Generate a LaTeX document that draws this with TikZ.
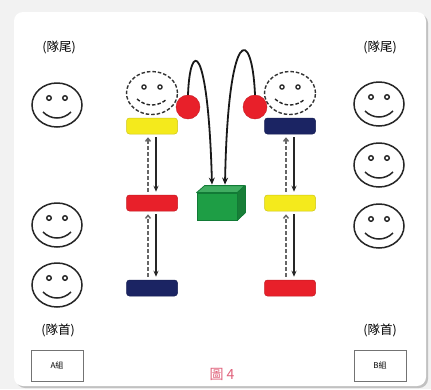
\documentclass[tikz,border=0pt]{standalone}
\usepackage{fontspec}
\newfontfamily\cjk{Noto Sans CJK TC}
\usetikzlibrary{shapes.geometric,arrows.meta,shadows,calc}
\definecolor{ballred}{HTML}{E8202A}
\definecolor{diskyellow}{HTML}{F4EA1C}
\definecolor{disknavy}{HTML}{1B2463}
\definecolor{boxgreen}{HTML}{1E9E45}
\definecolor{boxedge}{HTML}{127A36}
\definecolor{capred}{HTML}{E0607A}
\begin{document}
\begin{tikzpicture}[x=1pt,y=-1pt,
  face/.style={ellipse, draw=black!85, line width=1.5pt, minimum width=50pt,
    minimum height=44pt, inner sep=0pt,
    path picture={
      \path (path picture bounding box.center) coordinate (pc);
      \draw[black!85, line width=1.4pt, fill=white] ([shift={(-8,-7)}]pc) circle[radius=2.3pt];
      \draw[black!85, line width=1.4pt, fill=white] ([shift={(8,-7)}]pc) circle[radius=2.3pt];
      \draw[black!85, line width=1.5pt] ([shift={(-14,7)}]pc) .. controls ([shift={(-6,15)}]pc) and ([shift={(6,15)}]pc) .. ([shift={(14,7)}]pc);
    }},
  dface/.style={ellipse, draw=black!80, line width=1.4pt, dash pattern=on 3.5pt off 2pt,
    minimum width=51pt, minimum height=43pt, inner sep=0pt,
    path picture={
      \path (path picture bounding box.center) coordinate (pc);
      \draw[black!85, solid, line width=1.3pt, fill=white] ([shift={(-8,-6)}]pc) circle[radius=2.1pt];
      \draw[black!85, solid, line width=1.3pt, fill=white] ([shift={(8,-6)}]pc) circle[radius=2.1pt];
      \draw[black!85, line width=1.4pt, dash pattern=on 3.5pt off 2pt] ([shift={(-15,6)}]pc) .. controls ([shift={(-6,14)}]pc) and ([shift={(6,14)}]pc) .. ([shift={(15,6)}]pc);
    }},
  disk/.style={rectangle, rounded corners=3pt, minimum width=51pt, minimum height=16pt,
    inner sep=0pt, fill=#1, draw=#1!85!black, line width=.5pt},
  ball/.style={circle, fill=ballred, draw=ballred!85!black, line width=.4pt,
    minimum size=24pt, inner sep=0pt},
  lbl/.style={font=\cjk\fontsize{12.5}{13}\selectfont, text=black},
  groupbox/.style={draw=black!55, line width=.8pt, minimum width=52pt,
    minimum height=31pt, inner sep=0pt, font=\cjk\fontsize{8}{9}\selectfont},
  solidarr/.style={-{Stealth[length=6pt,width=5pt]}, line width=1.5pt, draw=black!85,
    shorten <=3pt, shorten >=3pt},
  dasharr/.style={-{Straight Barb[length=3pt,width=5pt]}, line width=1.5pt, draw=black!60,
    dash pattern=on 3.5pt off 2.5pt, shorten <=3pt, shorten >=3pt},
  jump/.style={-{Stealth[length=7pt,width=6pt]}, line width=1.8pt, draw=black!90}
]
\useasboundingbox (0,0) rectangle (431,389);
% page background and card
\fill[black!5] (0,0) rectangle (431,389);
\fill[white, rounded corners=9pt,
  drop shadow={shadow xshift=2pt, shadow yshift=-2pt, opacity=.35, fill=black!60}]
  (14,12) rectangle (426,386);

% captions at the ends of the queues
\node[lbl] (tailA) at (59,47) {(隊尾)};
\node[lbl] (tailB) at (380,47) {(隊尾)};
\node[lbl] (headA) at (58,330) {(隊首)};
\node[lbl] (headB) at (380,330) {(隊首)};

% queue A
\node[face] (a1) at (57,105) {};
\node[face] (a2) at (57,225) {};
\node[face] (a3) at (57,285) {};
% queue B
\node[face] (b1) at (379,104) {};
\node[face] (b2) at (379,165) {};
\node[face] (b3) at (379,226) {};

% players holding the balls
\node[dface] (pa) at (152,93) {};
\node[dface] (pb) at (290,93) {};
\node[ball] (ba) at (188,107) {};
\node[ball] (bb) at (255,107) {};

% disks
\node[disk=diskyellow] (ly) at (152,126) {};
\node[disk=ballred] (lr) at (152,203) {};
\node[disk=disknavy] (ln) at (152,288) {};
\node[disk=disknavy] (rn) at (290,126) {};
\node[disk=diskyellow] (ry) at (290,203) {};
\node[disk=ballred] (rr) at (290,288) {};

% target box
\node[rectangle, fill=boxgreen, draw=boxedge, line width=.8pt,
  minimum width=40pt, minimum height=27pt, inner sep=0pt] (box) at (217,206.5) {};
\filldraw[fill=boxgreen!85!white, draw=boxedge, line width=.8pt, line join=round]
  (box.north west) -- ++(8,-7) -- ++(40,0) -- (box.north east) -- cycle;
\filldraw[fill=boxgreen!80!black, draw=boxedge, line width=.8pt, line join=round]
  (box.north east) -- ++(8,-7) -- ++(0,27) -- (box.south east) -- cycle;

% throws into the box
\draw[jump] (ba.north) .. controls (190,40) and (208,40) .. ($(box.north)+(-5,-8)$);
\draw[jump] (bb.north) .. controls (252,25) and (228,25) .. ($(box.north)+(8,-8)$);

% moves between the disks
\foreach \a/\b in {ly/lr, lr/ln, rn/ry, ry/rr} {
  \draw[solidarr] ([xshift=4pt]\a.south) -- ([xshift=4pt]\b.north);
  \draw[dasharr] ([xshift=-4pt]\b.north) -- ([xshift=-4pt]\a.south);
}

% group tags and figure number
\node[groupbox] (ga) at (57,365.5) {A組};
\node[groupbox] (gb) at (380,365.5) {B組};
\node[font=\cjk\fontsize{14}{15}\selectfont, text=capred] (fig) at (222,374) {圖 4};
\end{tikzpicture}
\end{document}
